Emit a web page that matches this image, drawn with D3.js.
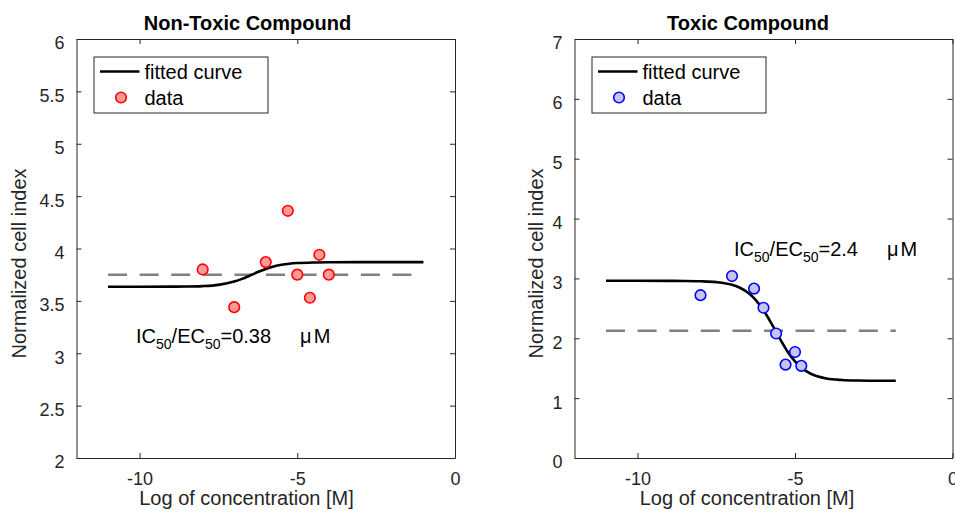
<!DOCTYPE html>
<meta charset="utf-8">
<style>
body { margin: 0; background: #fff; }
svg { font-family: "Liberation Sans", Arial, Helvetica, sans-serif; }
.axis path, .axis line { stroke: #262626; stroke-width: 1; }
</style>
<svg width="955" height="514"></svg>
<script src="https://d3js.org/d3.v7.min.js"></script>
<script>

// measured data points (log10 concentration, normalized cell index)
var concNonToxic = [-8, -7, -6, -5.3, -5, -4.6, -4.3, -4],
    cellNonToxic = [3.80, 3.44, 3.87, 4.36, 3.75, 3.53, 3.94, 3.75];
var concToxic = [-8, -7, -6.3, -6, -5.6, -5.3, -5, -4.8],
    cellToxic = [2.72, 3.04, 2.83, 2.51, 2.08, 1.56, 1.77, 1.54];

// fitted curves
var fitXNonToxic = [-11, -10, -9, -8.5, -8, -7.5, -7, -6.75, -6.5, -6.25, -6, -5.75, -5.5, -5.25, -5, -4.5, -4, -3, -1],
    fitYNonToxic = [3.635, 3.635, 3.636, 3.637, 3.641, 3.653, 3.684, 3.710, 3.742, 3.775, 3.805, 3.829, 3.845, 3.855, 3.861, 3.867, 3.869, 3.870, 3.870];
var fitXToxic = [-11, -10, -9, -8.5, -8, -7.5, -7, -6.75, -6.5, -6.25, -6, -5.75, -5.5, -5.25, -5, -4.75, -4.5, -4, -3.5, -3, -2.5, -1.8],
    fitYToxic = [2.96, 2.96, 2.959, 2.958, 2.953, 2.938, 2.893, 2.845, 2.765, 2.643, 2.468, 2.249, 2.010, 1.789, 1.613, 1.489, 1.408, 1.329, 1.303, 1.294, 1.291, 1.290];

// half-max dashed lines: [xStart, xEnd], level
var halfXNonToxic = [-11, -1], halfYNonToxic = 3.75;
var halfXToxic = [-11, -1.8], halfYToxic = 2.125;

var xTicks = [-10, -5, 0];
var yTicksNonToxic = [2, 2.5, 3, 3.5, 4, 4.5, 5, 5.5, 6];
var yTicksToxic = [0, 1, 2, 3, 4, 5, 6, 7];

var titles = ["Non-Toxic Compound", "Toxic Compound"];
var ic50Labels = ["0.38", "2.4"];

var svg = d3.select("svg");

var panels = [
  {
    left: 76.5, right: 455, top: 39, bottom: 458,
    yDomain: [2, 6], yTicks: yTicksNonToxic,
    conc: concNonToxic, cell: cellNonToxic,
    fitX: fitXNonToxic, fitY: fitYNonToxic,
    halfX: halfXNonToxic, halfY: halfYNonToxic,
    title: titles[0], ic50: ic50Labels[0],
    stroke: "#ff0000", fill: "#ff9a9a",
    titleX: 247.5, ylabX: 18.5, icX: 136, icY: 343
  },
  {
    left: 574.5, right: 952.5, top: 39, bottom: 458,
    yDomain: [0, 7], yTicks: yTicksToxic,
    conc: concToxic, cell: cellToxic,
    fitX: fitXToxic, fitY: fitYToxic,
    halfX: halfXToxic, halfY: halfYToxic,
    title: titles[1], ic50: ic50Labels[1],
    stroke: "#0000ff", fill: "#c6c6f4",
    titleX: 748, ylabX: 535.5, icX: 734, icY: 256
  }
];

panels.forEach(drawPanel);

function styleTicks(sel) {
  sel.attr("font-size", 18)
     .attr("font-family", "'Liberation Sans', Arial, Helvetica, sans-serif");
  sel.selectAll("text").attr("fill", "#262626");
}

function drawPanel(p) {
  var x = d3.scaleLinear().domain([-12, 0]).range([p.left, p.right]),
      y = d3.scaleLinear().domain(p.yDomain).range([p.bottom, p.top]);

  var g = svg.append("g");

  // axes with inward ticks, box on
  g.append("g").attr("class", "axis")
      .attr("transform", "translate(0," + p.bottom + ")")
      .call(d3.axisBottom(x).tickValues(xTicks).tickSizeInner(-5).tickSizeOuter(0).tickPadding(14)
        .tickFormat(function(d) { return String(d); }))
      .call(styleTicks);
  g.append("g").attr("class", "axis")
      .attr("transform", "translate(0," + p.top + ")")
      .call(d3.axisTop(x).tickValues(xTicks).tickSizeInner(-5).tickSizeOuter(0).tickFormat(""));
  g.append("g").attr("class", "axis")
      .attr("transform", "translate(" + p.left + ",0)")
      .call(d3.axisLeft(y).tickValues(p.yTicks).tickSizeInner(-5).tickSizeOuter(0).tickPadding(12)
        .tickFormat(function(d) { return String(d); }))
      .call(styleTicks)
    .selectAll("text").attr("dy", "0.55em");
  g.append("g").attr("class", "axis")
      .attr("transform", "translate(" + p.right + ",0)")
      .call(d3.axisRight(y).tickValues(p.yTicks).tickSizeInner(-5).tickSizeOuter(0).tickFormat(""));

  // half-max dashed line
  g.append("line")
      .attr("x1", x(p.halfX[0])).attr("x2", x(p.halfX[1]))
      .attr("y1", y(p.halfY)).attr("y2", y(p.halfY))
      .attr("stroke", "#808080").attr("stroke-width", 2.5)
      .attr("stroke-dasharray", "19,12.6");

  // fitted curve
  var line = d3.line()
      .curve(d3.curveMonotoneX)
      .x(function(d) { return x(d[0]); })
      .y(function(d) { return y(d[1]); });
  g.append("path")
      .datum(d3.zip(p.fitX, p.fitY))
      .attr("fill", "none").attr("stroke", "#000").attr("stroke-width", 2.6)
      .attr("d", line);

  // data points
  g.selectAll(".dot")
      .data(d3.zip(p.conc, p.cell))
    .enter().append("circle")
      .attr("class", "dot")
      .attr("cx", function(d) { return x(d[0]); })
      .attr("cy", function(d) { return y(d[1]); })
      .attr("r", 5.3)
      .attr("fill", p.fill).attr("stroke", p.stroke).attr("stroke-width", 1.6);

  // IC50 annotation
  var t = g.append("text")
      .attr("x", p.icX).attr("y", p.icY)
      .attr("font-size", 20).attr("fill", "#000");
  t.append("tspan").text("IC");
  t.append("tspan").attr("font-size", 14).attr("dy", 6).text("50");
  t.append("tspan").attr("dy", -6).text("/EC");
  t.append("tspan").attr("font-size", 14).attr("dy", 6).text("50");
  t.append("tspan").attr("dy", -6).text("=" + p.ic50);
  t.append("tspan").attr("dx", 29).text("μ");
  t.append("tspan").attr("dx", 2).text("M");

  // legend
  var lx = p.left + 17.5, ly = 57;
  var leg = g.append("g");
  leg.append("rect")
      .attr("x", lx).attr("y", ly).attr("width", 174).attr("height", 56)
      .attr("fill", "#fff").attr("stroke", "#262626").attr("stroke-width", 1);
  leg.append("line")
      .attr("x1", lx + 6).attr("x2", lx + 45.5)
      .attr("y1", ly + 14.5).attr("y2", ly + 14.5)
      .attr("stroke", "#000").attr("stroke-width", 2.6);
  leg.append("text").attr("x", lx + 50.5).attr("y", ly + 22)
      .attr("font-size", 20).attr("fill", "#000").text("fitted curve");
  leg.append("circle")
      .attr("cx", lx + 27).attr("cy", ly + 40.5).attr("r", 5.3)
      .attr("fill", p.fill).attr("stroke", p.stroke).attr("stroke-width", 1.6);
  leg.append("text").attr("x", lx + 50.5).attr("y", ly + 47.5)
      .attr("font-size", 20).attr("fill", "#000").text("data");

  // title and axis labels
  g.append("text")
      .attr("x", p.titleX).attr("y", 30)
      .attr("text-anchor", "middle").attr("font-size", 20).attr("font-weight", "bold")
      .attr("fill", "#000").text(p.title);
  g.append("text")
      .attr("x", p.titleX - 1).attr("y", 505)
      .attr("text-anchor", "middle").attr("font-size", 20)
      .attr("fill", "#262626").text("Log of concentration [M]");
  g.append("text")
      .attr("transform", "translate(" + (p.ylabX + 7) + ",263.5) rotate(-90)")
      .attr("text-anchor", "middle").attr("font-size", 20)
      .attr("fill", "#262626").text("Normalized cell index");
}

</script>
